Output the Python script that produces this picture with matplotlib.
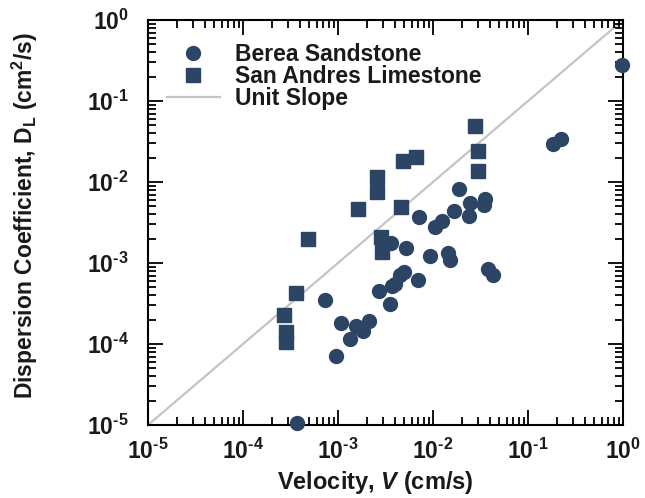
import matplotlib
matplotlib.use("Agg")
import matplotlib.pyplot as plt
from matplotlib.ticker import LogLocator, NullFormatter, FuncFormatter
import numpy as np

plt.rcParams['font.family'] = ['Liberation Sans', 'DejaVu Sans']
plt.rcParams['font.weight'] = 'bold'
plt.rcParams['mathtext.fontset'] = 'custom'
plt.rcParams['mathtext.rm'] = 'Liberation Sans:bold'
plt.rcParams['mathtext.bf'] = 'Liberation Sans:bold'
plt.rcParams['mathtext.it'] = 'Liberation Sans:bold:italic'
plt.rcParams['mathtext.default'] = 'rm'

# Berea Sandstone: velocity (cm/s), dispersion coefficient (cm^2/s)
berea_v = [0.183, 0.224, 0.0188, 0.0243, 0.0356, 0.0341, 0.0165, 0.0237,
           0.0125, 0.0104, 0.00713, 0.00525, 0.00363, 0.00923, 0.0144,
           0.0150, 0.0380, 0.0429, 0.0050, 0.00447, 0.00695, 0.00398,
           0.00367, 0.00268, 0.00356, 0.000736, 0.00108, 0.00156, 0.00183,
           0.00212, 0.00135, 0.000945]
berea_d = [0.0295, 0.0336, 0.0081, 0.00543, 0.00613, 0.00518, 0.00442, 0.0038,
           0.00333, 0.00282, 0.00373, 0.00153, 0.00176, 0.00123, 0.00133,
           0.00108, 0.000845, 0.00072, 0.000783, 0.00072, 0.000616, 0.000543,
           0.000518, 0.00045, 0.000309, 0.000346, 0.000184, 0.000168, 0.000146,
           0.00019, 0.000115, 7.06e-5]
# points sitting on the frame
berea_edge_v = [0.97, 0.000367]
berea_edge_d = [0.276, 1.05e-5]

# San Andres Limestone
sanandres_v = [0.0275, 0.0298, 0.0298, 0.00668, 0.00483, 0.0026, 0.0026,
               0.00162, 0.00465, 0.000483, 0.000358, 0.00027, 0.000286,
               0.000286, 0.00288, 0.00286]
sanandres_d = [0.0494, 0.024, 0.0135, 0.0202, 0.0181, 0.0115, 0.00755,
               0.00463, 0.00494, 0.00197, 0.00043, 0.000226, 0.000142,
               0.000105, 0.00138, 0.00212]

unit_line = [1e-5, 1.0]

mcolor = '#2d4565'
txtcolor = '#1a1a1a'
ms = 10


def pow10_label(val, pos):
    e = int(round(np.log10(val)))
    if e < 0:
        return '$10^{\\text{-}%d}$' % (-e)
    return '$10^{%d}$' % e


fig = plt.figure(figsize=(6.45, 4.98), dpi=100)
ax = fig.add_axes([148/645, 1-425/498, 475/645, 405/498])

ax.plot(unit_line, unit_line, color='#c4c4c4', lw=1.6, label='Unit Slope', zorder=1)
ax.plot(berea_v, berea_d, 'o', ms=ms, color=mcolor, mec=mcolor, label='Berea Sandstone', zorder=3)
ax.plot(berea_edge_v, berea_edge_d, 'o', ms=ms, color=mcolor, mec=mcolor, clip_on=False, zorder=4)
ax.plot(sanandres_v, sanandres_d, 's', ms=ms, color=mcolor, mec=mcolor, label='San Andres Limestone', zorder=3)

ax.set_xscale('log')
ax.set_yscale('log')
ax.set_xlim(1e-5, 1)
ax.set_ylim(1e-5, 1)

for a in (ax.xaxis, ax.yaxis):
    a.set_major_locator(LogLocator(base=10, numticks=10))
    a.set_minor_locator(LogLocator(base=10, subs=np.arange(2, 10), numticks=10))
    a.set_major_formatter(FuncFormatter(pow10_label))
    a.set_minor_formatter(NullFormatter())

ax.tick_params(which='both', direction='in', top=True, right=True, width=1.3, colors='black')
ax.tick_params(which='major', length=11, labelsize=16.5, labelcolor=txtcolor)
ax.tick_params(which='minor', length=6)
ax.tick_params(axis='x', which='major', pad=10)
ax.tick_params(axis='y', which='major', pad=14)
for s in ax.spines.values():
    s.set_linewidth(1.5)

ax.set_xlabel('Velocity, $\\mathit{V}$ (cm/s)', fontsize=17, fontweight='bold', color=txtcolor)
ax.set_ylabel('Dispersion Coefficient, D$_\\mathrm{L}$ (cm$^2$/s)', fontsize=16.5,
              fontweight='bold', color=txtcolor)
ax.xaxis.set_label_coords(0.478, -0.108)
ax.yaxis.set_label_coords(-0.227, 0.518)

h, l = ax.get_legend_handles_labels()
order = [1, 2, 0]
leg = ax.legend([h[i] for i in order], [l[i] for i in order], loc='upper left',
                bbox_to_anchor=(0.04, 0.943), frameon=False, borderaxespad=0,
                borderpad=0, fontsize=16.5, handlelength=2.3, handletextpad=0.65,
                labelspacing=-0.05)
for t in leg.get_texts():
    t.set_fontweight('bold')
    t.set_color(txtcolor)

fig.savefig('out.png', dpi=100)
